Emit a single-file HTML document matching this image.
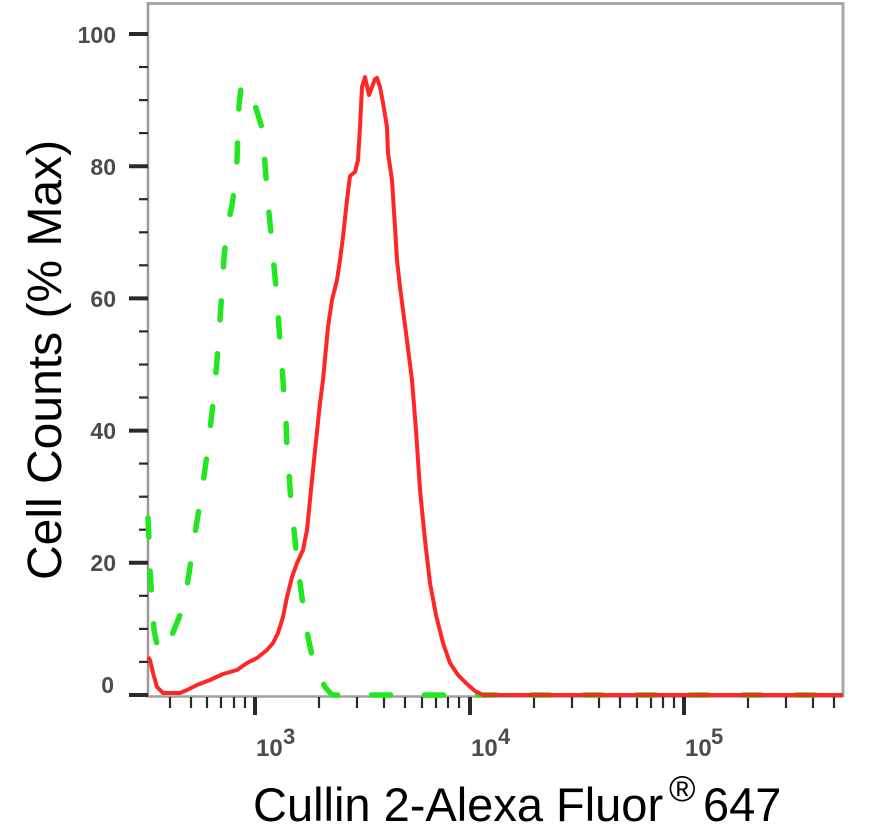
<!DOCTYPE html>
<html>
<head>
<meta charset="utf-8">
<style>
html,body{margin:0;padding:0;background:#fff;}
svg{display:block;}
</style>
</head>
<body>
<svg width="887" height="828" viewBox="0 0 887 828" xmlns="http://www.w3.org/2000/svg">
<rect x="0" y="0" width="887" height="828" fill="#fff"/>
<!-- frame -->
<line x1="148" y1="3.5" x2="843" y2="3.5" stroke="#a8a8a8" stroke-width="3"/>
<line x1="843" y1="2" x2="843" y2="697" stroke="#a8a8a8" stroke-width="3"/>
<line x1="148" y1="2" x2="148" y2="697" stroke="#999" stroke-width="2.5"/>
<line x1="146" y1="696.5" x2="843" y2="696.5" stroke="#a0a0a0" stroke-width="2.5"/>

<!-- y ticks -->
<g stroke="#2a2a2a">
<g stroke-width="4">
<line x1="129" y1="695" x2="148" y2="695"/>
<line x1="129" y1="562.8" x2="148" y2="562.8"/>
<line x1="129" y1="430.6" x2="148" y2="430.6"/>
<line x1="129" y1="298.4" x2="148" y2="298.4"/>
<line x1="129" y1="166.2" x2="148" y2="166.2"/>
<line x1="129" y1="34" x2="148" y2="34"/>
</g>
<g stroke-width="2.2">
<line x1="139" y1="661.9" x2="148" y2="661.9"/>
<line x1="139" y1="628.9" x2="148" y2="628.9"/>
<line x1="139" y1="595.8" x2="148" y2="595.8"/>
<line x1="139" y1="529.7" x2="148" y2="529.7"/>
<line x1="139" y1="496.7" x2="148" y2="496.7"/>
<line x1="139" y1="463.6" x2="148" y2="463.6"/>
<line x1="139" y1="397.5" x2="148" y2="397.5"/>
<line x1="139" y1="364.5" x2="148" y2="364.5"/>
<line x1="139" y1="331.4" x2="148" y2="331.4"/>
<line x1="139" y1="265.3" x2="148" y2="265.3"/>
<line x1="139" y1="232.3" x2="148" y2="232.3"/>
<line x1="139" y1="199.2" x2="148" y2="199.2"/>
<line x1="139" y1="133.1" x2="148" y2="133.1"/>
<line x1="139" y1="100.1" x2="148" y2="100.1"/>
<line x1="139" y1="67" x2="148" y2="67"/>
</g>
</g>

<!-- x ticks -->
<g stroke="#2a2a2a">
<g stroke-width="4">
<line x1="255" y1="697" x2="255" y2="715"/>
<line x1="470" y1="697" x2="470" y2="715"/>
<line x1="684" y1="697" x2="684" y2="715"/>
</g>
<g stroke-width="2.2">
<line x1="170" y1="697" x2="170" y2="708"/>
<line x1="191" y1="697" x2="191" y2="708"/>
<line x1="207" y1="697" x2="207" y2="708"/>
<line x1="221" y1="697" x2="221" y2="708"/>
<line x1="234" y1="697" x2="234" y2="708"/>
<line x1="245" y1="697" x2="245" y2="708"/>
<line x1="319" y1="697" x2="319" y2="708"/>
<line x1="357" y1="697" x2="357" y2="708"/>
<line x1="384" y1="697" x2="384" y2="708"/>
<line x1="405" y1="697" x2="405" y2="708"/>
<line x1="422" y1="697" x2="422" y2="708"/>
<line x1="436" y1="697" x2="436" y2="708"/>
<line x1="448" y1="697" x2="448" y2="708"/>
<line x1="459" y1="697" x2="459" y2="708"/>
<line x1="534" y1="697" x2="534" y2="708"/>
<line x1="572" y1="697" x2="572" y2="708"/>
<line x1="599" y1="697" x2="599" y2="708"/>
<line x1="620" y1="697" x2="620" y2="708"/>
<line x1="637" y1="697" x2="637" y2="708"/>
<line x1="651" y1="697" x2="651" y2="708"/>
<line x1="663" y1="697" x2="663" y2="708"/>
<line x1="674" y1="697" x2="674" y2="708"/>
<line x1="748" y1="697" x2="748" y2="708"/>
<line x1="786" y1="697" x2="786" y2="708"/>
<line x1="813" y1="697" x2="813" y2="708"/>
<line x1="834" y1="697" x2="834" y2="708"/>
</g>
</g>

<!-- y tick labels -->
<g font-family="Liberation Sans, Arial, sans-serif" font-size="23" font-weight="bold" fill="#4c4c4c" text-anchor="end">
<text x="116" y="43">100</text>
<text x="116" y="175">80</text>
<text x="116" y="307">60</text>
<text x="116" y="439">40</text>
<text x="116" y="571">20</text>
<text x="114" y="693">0</text>
</g>

<!-- x tick labels -->
<g font-family="Liberation Sans, Arial, sans-serif" font-weight="bold" fill="#4c4c4c">
<text x="256" y="756" font-size="24">10</text>
<text x="283" y="744" font-size="22">3</text>
<text x="471" y="756" font-size="24">10</text>
<text x="498" y="744" font-size="22">4</text>
<text x="685" y="756" font-size="24">10</text>
<text x="711" y="744" font-size="22">5</text>
</g>

<!-- axis titles -->
<text transform="translate(61,580) rotate(-90)" font-family="Liberation Sans, Arial, sans-serif" font-size="48" fill="#000">Cell Counts (% Max)</text>
<text x="253" y="821" font-family="Liberation Sans, Arial, sans-serif" font-size="47" fill="#000">Cullin 2-Alexa Fluor</text>
<text x="669" y="801" font-family="Liberation Sans, Arial, sans-serif" font-size="36" fill="#000">®</text>
<text x="703" y="821" font-family="Liberation Sans, Arial, sans-serif" font-size="47" fill="#000">647</text>

<!-- green dashed (control) -->
<path d="M148,518 L149,540 L150,570 L152,600 L154,630 L158,650 L163,652 L170,640 L176,625 L182,610 L186,592 L190,567 L194,540 L198,515 L202,490 L206,462 L210,430 L214,395 L217,360 L220,320 L222,290 L224,258 L227,228 L232,205 L235,185 L237,160 L238,130 L239,105 L241,88 L245,84 L250,90 L254,102 L258,115 L262,128 L264,150 L266,178 L268,203 L271,233 L273,257 L276,287 L278,312 L280,342 L282,366 L284,395 L286,420 L287,450 L289,473 L291,503 L294,530 L297,560 L300,583 L304,612 L308,637 L313,660 L319,675 L325,687 L332,695 L843,695"
 fill="none" stroke="#22e622" stroke-width="5.5" stroke-dasharray="19 34" stroke-linecap="round" stroke-linejoin="round"/>

<!-- red solid (antibody) -->
<path d="M148,657 L150,660 L153,673 L157,687 L163,693 L180,693 L187,690 L197,685 L210,680 L223,674 L237,670 L247,663 L257,658 L267,650 L273,643 L278,633 L283,617 L287,597 L292,577 L297,563 L303,550 L307,530 L313,470 L320,403 L323,380 L328,327 L332,300 L337,280 L340,260 L343,237 L347,200 L350,176 L355,172 L358,160 L360,127 L362,87 L365,77 L367,86 L369,95 L372,87 L375,79 L377,78 L380,87 L383,103 L387,127 L388,153 L392,180 L395,227 L397,260 L400,287 L406,333 L412,380 L416,430 L420,490 L425,540 L430,583 L436,615 L443,643 L450,663 L458,675 L467,684 L475,691 L483,695 L843,695"
 fill="none" stroke="#ff2626" stroke-width="4" stroke-linejoin="round"/>
</svg>
</body>
</html>
